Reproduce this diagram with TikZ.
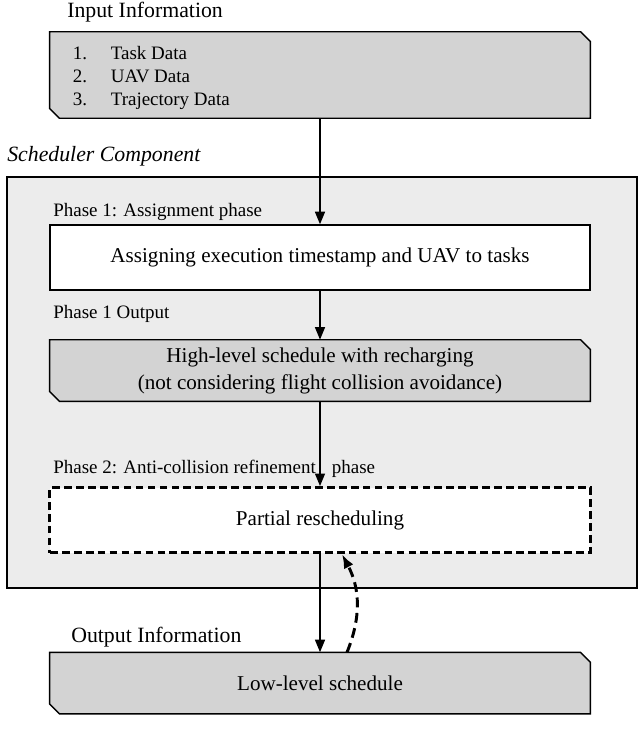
\documentclass[tikz,border=0pt]{standalone}
\usepackage{fontspec}
\setmainfont{Liberation Serif}
\usetikzlibrary{positioning,backgrounds,arrows.meta}
\definecolor{boxgray}{RGB}{211,211,211}
\definecolor{panelgray}{RGB}{236,236,236}

% gray box with cut corners (north east and south west), drawn behind node #1
\newcommand{\cutbox}[1]{%
  \filldraw[line width=1pt, fill=boxgray] (#1.north west) -- ([xshift=-7pt]#1.north east)
    -- ([yshift=-7pt]#1.north east) -- (#1.south east) -- ([xshift=7pt]#1.south west)
    -- ([yshift=7pt]#1.south west) -- cycle;}

\tikzset{
  databox/.style={rectangle, inner sep=0pt, minimum width=13.5cm, align=center,
    font=\fontsize{15}{19.1}\selectfont},
  stepbox/.style={rectangle, draw, line width=1pt, fill=white, inner sep=0pt,
    minimum width=13.5cm, minimum height=1.625cm, font=\fontsize{15}{19.1}\selectfont},
  resbox/.style={stepbox, line width=2.2pt, dash pattern=on 5.5pt off 3pt},
  panel/.style={draw, line width=1pt, fill=panelgray, inner sep=0pt},
  headlabel/.style={anchor=base west, inner sep=0pt, font=\fontsize{15.5}{19}\selectfont},
  phaselabel/.style={anchor=base west, inner sep=0pt, font=\fontsize{13.5}{16.3}\selectfont},
  flow/.style={line width=1.4pt, -{Triangle[length=9pt,width=7pt]}},
  backflow/.style={line width=2.1pt, dash pattern=on 7pt off 4pt, -{Latex[length=10pt,width=7.5pt]}},
}

\begin{document}
\begin{tikzpicture}[x=0.025cm, y=-0.025cm]
\useasboundingbox (0,0) rectangle (640,748);

\node[headlabel] (intitle) at (67,18) {Input Information};
\node[headlabel, font=\fontsize{15.5}{19}\selectfont\itshape] (schedtitle) at (7,162) {Scheduler Component};
\node[headlabel] (outtitle) at (71,642) {Output Information};

% main chain
\node[databox, minimum height=2.15cm] (in) at (320,75) {};
\node[phaselabel, anchor=west] (inlist) at ([xshift=16.3pt, yshift=-1.8pt]in.west)
  {\begin{tabular}{@{}p{27pt}@{}l@{}}1. & Task Data\\2. & UAV Data\\3. & Trajectory Data\end{tabular}};
\node[stepbox] (assign) [below=2.65cm of in] {Assigning execution timestamp and UAV to tasks};
\node[databox, minimum height=1.525cm] (high) [below=1.225cm of assign]
  {High-level schedule with recharging\\(not considering flight collision avoidance)};
\node[resbox] (resch) [below=2.12cm of high] {Partial rescheduling};
\node[databox, minimum height=1.525cm] (out) [below=2.45cm of resch] {Low-level schedule};

% phase labels
\node[phaselabel] (p1) at (53,216) {Phase 1: Assignment phase};
\node[phaselabel] (p1out) at (53,318) {Phase 1 Output};
\node[phaselabel] (p2) at (53,473) {Phase 2: Anti-collision refinement\hspace{8pt} phase};

\begin{scope}[on background layer]
\node[panel, minimum width=15.75cm, minimum height=10.275cm] (sched) at (322,382.5) {};
\cutbox{in}
\cutbox{high}
\cutbox{out}
\end{scope}

\draw[flow] (in) -- (assign);
\draw[flow] (assign) -- (high);
\draw[flow] (high) -- (resch);
\draw[flow] (resch) -- (out);
\draw[backflow] ([xshift=0.675cm]out.north) to[bend right=25] ([xshift=0.55cm]resch.south);
\end{tikzpicture}
\end{document}
